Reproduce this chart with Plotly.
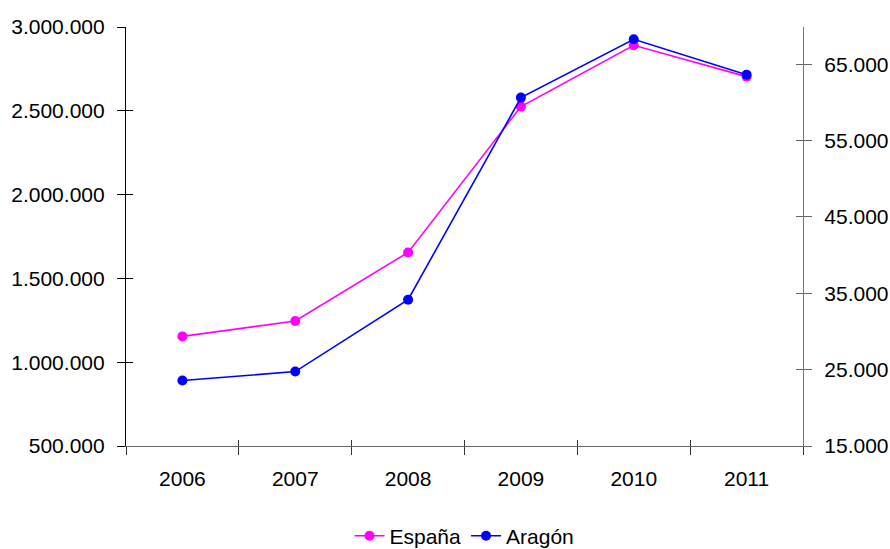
import plotly.graph_objects as go

years = ["2006", "2007", "2008", "2009", "2010", "2011"]
espana = [1154000, 1246000, 1655000, 2525000, 2891000, 2704000]
aragon = [23570, 24750, 34165, 60630, 68270, 63640]

left_ticks = [500000, 1000000, 1500000, 2000000, 2500000, 3000000]
left_labels = ["500.000", "1.000.000", "1.500.000", "2.000.000", "2.500.000", "3.000.000"]
right_ticks = [15000, 25000, 35000, 45000, 55000, 65000]
right_labels = ["15.000", "25.000", "35.000", "45.000", "55.000", "65.000"]

FONT = "Liberation Sans, Arial, sans-serif"
fig = go.Figure()

fig.add_trace(go.Scatter(x=years, y=espana, name="España", mode="lines+markers",
                         line=dict(color="#FF00FF", width=1.6),
                         marker=dict(size=10, color="#FF00FF"),
                         xaxis="x", yaxis="y"))
fig.add_trace(go.Scatter(x=years, y=aragon, name="Aragón", mode="lines+markers",
                         line=dict(color="#0000FF", width=1.6),
                         marker=dict(size=10, color="#0000FF"),
                         xaxis="x2", yaxis="y2"))
# invisible helper traces for crossing tick overlays
fig.add_trace(go.Scatter(x=years, y=espana, mode="lines", line=dict(color="rgba(0,0,0,0)"),
                         showlegend=False, hoverinfo="skip", xaxis="x", yaxis="y3"))
fig.add_trace(go.Scatter(x=years, y=aragon, mode="lines", line=dict(color="rgba(0,0,0,0)"),
                         showlegend=False, hoverinfo="skip", xaxis="x", yaxis="y4"))

R2 = [15000, 69880]
fig.update_layout(
    width=890, height=549,
    margin=dict(l=126, r=87, t=27, b=102.5, autoexpand=False),
    paper_bgcolor="white", plot_bgcolor="white",
    font=dict(family=FONT, size=21, color="black"),
    showlegend=True,
    legend=dict(orientation="h", x=0.5, xanchor="center", y=-0.166, yanchor="top",
                font=dict(size=21), tracegroupgap=0),
    xaxis=dict(type="category", range=[-0.5, 5.5], tickson="boundaries",
               ticks="outside", ticklen=8, tickcolor="#333", tickwidth=1,
               showline=True, linecolor="#666", linewidth=1.2, showgrid=False,
               zeroline=False, ticklabelstandoff=14, anchor="y", automargin=False),
    xaxis2=dict(type="category", range=[-0.5, 5.5], tickson="boundaries",
                ticks="inside", ticklen=6, tickcolor="#333", tickwidth=1,
                showticklabels=False, showgrid=False, zeroline=False,
                overlaying="x", anchor="y2", side="bottom", showline=False),
    yaxis=dict(range=[500000, 3000000], tickvals=left_ticks, ticktext=left_labels,
               ticks="outside", ticklen=8, tickcolor="black", tickwidth=1,
               showline=True, linecolor="black", linewidth=1.2, showgrid=False,
               zeroline=False, ticklabelstandoff=8, automargin=False),
    yaxis3=dict(range=[500000, 3000000], tickvals=left_ticks, ticks="inside",
                ticklen=7, tickcolor="black", tickwidth=1, showticklabels=False,
                showgrid=False, zeroline=False, overlaying="y", side="left",
                anchor="x", showline=False),
    yaxis2=dict(range=R2, tickvals=right_ticks,
                ticktext=right_labels, overlaying="y", side="right", anchor="x2",
                ticks="outside", ticklen=8, tickcolor="#666", tickwidth=1,
                showline=True, linecolor="#777", linewidth=1.2, showgrid=False,
                zeroline=False, ticklabelstandoff=8, automargin=False),
    yaxis4=dict(range=R2, tickvals=right_ticks,
                ticks="inside", ticklen=7, tickcolor="#666", tickwidth=1,
                showticklabels=False, showgrid=False, zeroline=False,
                overlaying="y", side="right", anchor="x", showline=False),
)

fig.write_html("out.html", config={"displayModeBar": False},
               post_script="document.body.style.margin='0';document.body.style.overflow='hidden';")
